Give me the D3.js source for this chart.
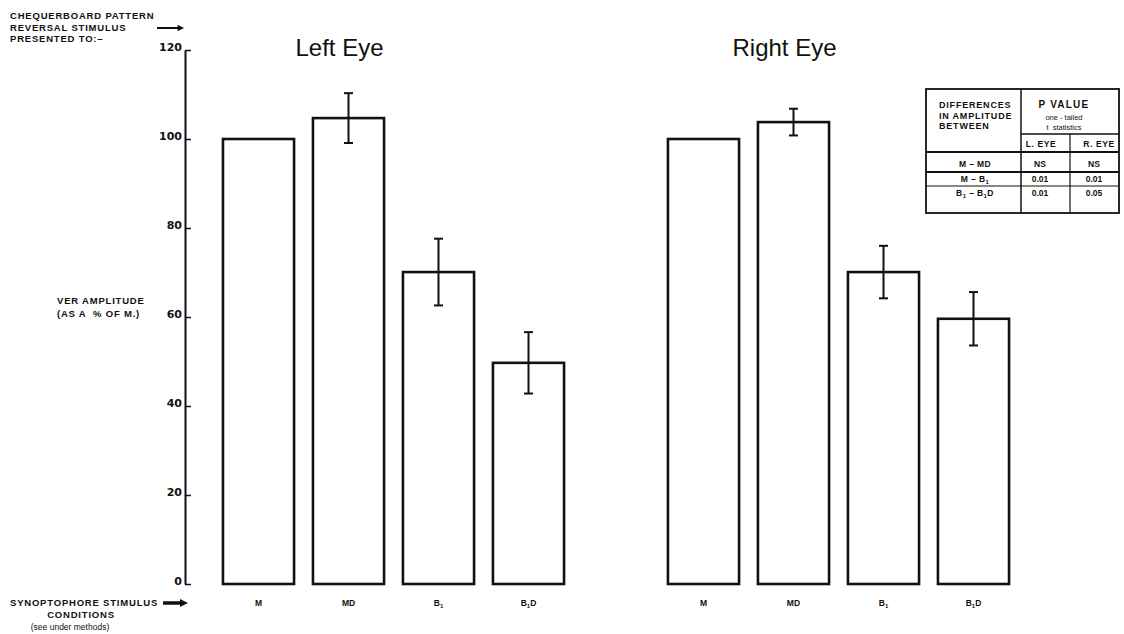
<!DOCTYPE html>
<html>
<head>
<meta charset="utf-8">
<script src="https://cdn.jsdelivr.net/npm/d3@7"></script>
<style>
  body { margin: 0; background: #fff; }
  text { fill: #111; white-space: pre; }
  .cap { font-family: 'Liberation Sans', Arial, sans-serif; font-weight: bold; font-size: 9.5px; letter-spacing: 0.8px; }
</style>
</head>
<body>
<svg id="chart"></svg>
<script>
// values
const eyes = ['Left Eye', 'Right Eye'];
const conditions = ['M', 'MD', 'B1', 'B1D'];
const leftAmp = [100, 104.7, 70.1, 49.7];
const leftErr = [0, 5.6, 7.5, 6.9];
const rightAmp = [100, 103.8, 70.1, 59.6];
const rightErr = [0, 3.0, 5.9, 6.0];
const yTicks = [0, 20, 40, 60, 80, 100, 120];

const comparisons = ['M – MD', 'M – B1', 'B1 – B1D'];
const pLeft = ['NS', '0.01', '0.01'];
const pRight = ['NS', '0.01', '0.05'];

const W = 1124, H = 634;
const svg = d3.select('#chart').attr('width', W).attr('height', H);

const y = d3.scaleLinear().domain([0, 120]).range([584, 50]);
const x0 = d3.scaleBand().domain(eyes).range([213.5, 1018.5]).paddingInner(0.191);
const x1 = d3.scaleBand().domain(conditions).range([0, x0.bandwidth()]).paddingInner(0.21).paddingOuter(0.105);

const data = [];
eyes.forEach((eye, i) => {
  const amp = i === 0 ? leftAmp : rightAmp;
  const err = i === 0 ? leftErr : rightErr;
  conditions.forEach((c, j) => data.push({ eye, c, v: amp[j], e: err[j] }));
});

// label with subscripted 1 (B1 -> B with subscript 1)
function subLabel(sel, s, subSize) {
  const parts = s.split('1');
  let shift = 0;
  parts.forEach((p, i) => {
    if (p) sel.append('tspan').attr('dy', -shift).text(p);
    shift = 0;
    if (i < parts.length - 1) {
      sel.append('tspan').attr('font-size', subSize).attr('dy', 2).text('1');
      shift = 2;
    }
  });
}

// y axis
const yAxis = svg.append('g')
  .attr('transform', 'translate(185,0)')
  .call(d3.axisLeft(y).tickValues(yTicks).tickSizeInner(-6).tickSizeOuter(0).tickPadding(3));
yAxis.select('.domain').attr('stroke', '#111').attr('stroke-width', 2);
yAxis.selectAll('.tick line').attr('stroke', '#111').attr('stroke-width', 1.5);
yAxis.selectAll('.tick text')
  .attr('dy', '0')
  .attr('font-family', "'DejaVu Sans', sans-serif")
  .attr('font-weight', 'bold')
  .attr('font-size', 11)
  .attr('fill', '#111');

// bars
const groups = svg.append('g').selectAll('g')
  .data(eyes)
  .enter().append('g')
  .attr('transform', d => `translate(${x0(d)},0)`);

groups.selectAll('rect')
  .data(eye => data.filter(d => d.eye === eye))
  .enter().append('rect')
  .attr('x', d => x1(d.c))
  .attr('y', d => y(d.v))
  .attr('width', x1.bandwidth())
  .attr('height', d => y(0) - y(d.v))
  .attr('fill', '#fff')
  .attr('stroke', '#111')
  .attr('stroke-width', 2.6);

// error bars
const eb = groups.selectAll('g.err')
  .data(eye => data.filter(d => d.eye === eye && d.e > 0))
  .enter().append('g')
  .attr('class', 'err')
  .attr('transform', d => `translate(${x1(d.c) + x1.bandwidth() / 2},0)`)
  .attr('stroke', '#111');
eb.append('line').attr('y1', d => y(d.v + d.e)).attr('y2', d => y(d.v - d.e)).attr('stroke-width', 2);
eb.append('line').attr('x1', -4.5).attr('x2', 4.5).attr('y1', d => y(d.v + d.e)).attr('y2', d => y(d.v + d.e)).attr('stroke-width', 2);
eb.append('line').attr('x1', -4.5).attr('x2', 4.5).attr('y1', d => y(d.v - d.e)).attr('y2', d => y(d.v - d.e)).attr('stroke-width', 2);

// category labels
groups.selectAll('text.cat')
  .data(eye => data.filter(d => d.eye === eye))
  .enter().append('text')
  .attr('class', 'cat')
  .attr('x', d => x1(d.c) + x1.bandwidth() / 2)
  .attr('y', 606)
  .attr('text-anchor', 'middle')
  .attr('font-family', "'Liberation Sans', Arial, sans-serif")
  .attr('font-weight', 'bold')
  .attr('font-size', 8.5)
  .each(function (d) { subLabel(d3.select(this), d.c, 6); });

// eye titles
groups.append('text')
  .attr('x', x0.bandwidth() * 0.35)
  .attr('y', 56)
  .attr('text-anchor', 'middle')
  .attr('font-family', "'Liberation Sans', Arial, sans-serif")
  .attr('font-size', 24)
  .text(d => d);

// top-left note
const note = svg.append('text').attr('class', 'cap');
['CHEQUERBOARD PATTERN', 'REVERSAL STIMULUS', 'PRESENTED TO:–'].forEach((t, i) => {
  note.append('tspan').attr('x', 10).attr('y', 19 + i * 11.5).text(t);
});

// y label
const yl = svg.append('text').attr('class', 'cap');
['VER AMPLITUDE', '(AS A  % OF M.)'].forEach((t, i) => {
  yl.append('tspan').attr('x', 57).attr('y', 304 + i * 12.5).text(t);
});

// bottom-left note
const bl = svg.append('g');
bl.append('text').attr('class', 'cap').attr('x', 10).attr('y', 606).text('SYNOPTOPHORE STIMULUS');
bl.append('text').attr('class', 'cap').attr('x', 81).attr('y', 618).attr('text-anchor', 'middle').text('CONDITIONS');
bl.append('text').attr('x', 70).attr('y', 630).attr('text-anchor', 'middle')
  .attr('font-family', "'Liberation Sans', Arial, sans-serif").attr('font-size', 8.5)
  .text('(see under methods)');

// arrows
function arrow(x1a, x2a, ya, w, head) {
  svg.append('line').attr('x1', x1a).attr('x2', x2a - head).attr('y1', ya).attr('y2', ya)
    .attr('stroke', '#111').attr('stroke-width', w);
  svg.append('path')
    .attr('d', `M${x2a},${ya} L${x2a - head * 1.6},${ya - head * 0.8} L${x2a - head * 1.6},${ya + head * 0.8} Z`)
    .attr('fill', '#111');
}
arrow(157, 184, 28, 2, 4);
arrow(163, 188, 603, 3.5, 5);

// statistics table
const tb = svg.append('g').attr('font-family', "'Liberation Sans', Arial, sans-serif").attr('font-weight', 'bold');
const tL = 926, tR = 1119, tT = 89, tB = 213, c1 = 1021, c2 = 1070;
function hline(xa, xb, yy, w) {
  tb.append('line').attr('x1', xa).attr('x2', xb).attr('y1', yy).attr('y2', yy).attr('stroke', '#111').attr('stroke-width', w);
}
function vline(xx, ya, yb, w) {
  tb.append('line').attr('x1', xx).attr('x2', xx).attr('y1', ya).attr('y2', yb).attr('stroke', '#111').attr('stroke-width', w);
}
tb.append('rect').attr('x', tL).attr('y', tT).attr('width', tR - tL).attr('height', tB - tT)
  .attr('fill', '#fff').attr('stroke', '#111').attr('stroke-width', 1.8);
vline(c1, tT, tB, 1.5);
vline(c2, 134, tB, 1.2);
hline(c1, tR, 134, 1.5);
hline(tL, tR, 152, 2);
hline(tL, tR, 172, 2);
hline(tL, tR, 186, 1.2);

const hdr = tb.append('text').attr('font-size', 9).attr('letter-spacing', 0.8);
['DIFFERENCES', 'IN AMPLITUDE', 'BETWEEN'].forEach((t, i) => {
  hdr.append('tspan').attr('x', 939).attr('y', 108 + i * 10.5).text(t);
});
tb.append('text').attr('x', 1064).attr('y', 108).attr('text-anchor', 'middle').attr('font-size', 10).attr('letter-spacing', 1.2).text('P VALUE');
tb.append('text').attr('x', 1064).attr('y', 120).attr('text-anchor', 'middle').attr('font-size', 7.5).attr('font-weight', 'normal').text('one - tailed');
tb.append('text').attr('x', 1064).attr('y', 130).attr('text-anchor', 'middle').attr('font-size', 7.5).attr('font-weight', 'normal').text('t  statistics');
tb.append('text').attr('x', 1041).attr('y', 147).attr('text-anchor', 'middle').attr('font-size', 8.5).attr('letter-spacing', 0.6).text('L. EYE');
tb.append('text').attr('x', 1099).attr('y', 147).attr('text-anchor', 'middle').attr('font-size', 8.5).attr('letter-spacing', 0.6).text('R. EYE');

const rowY = d3.scaleBand().domain(comparisons).range([155, 199]);
comparisons.forEach((c, i) => {
  const yy = rowY(c) + 12;
  const t = tb.append('text').attr('x', 975).attr('y', yy).attr('text-anchor', 'middle').attr('font-size', 8.5).attr('letter-spacing', 0.4);
  subLabel(t, c, 6);
  tb.append('text').attr('x', 1040).attr('y', yy).attr('text-anchor', 'middle').attr('font-size', 8.5).text(pLeft[i]);
  tb.append('text').attr('x', 1094).attr('y', yy).attr('text-anchor', 'middle').attr('font-size', 8.5).text(pRight[i]);
});
</script>
</body>
</html>
